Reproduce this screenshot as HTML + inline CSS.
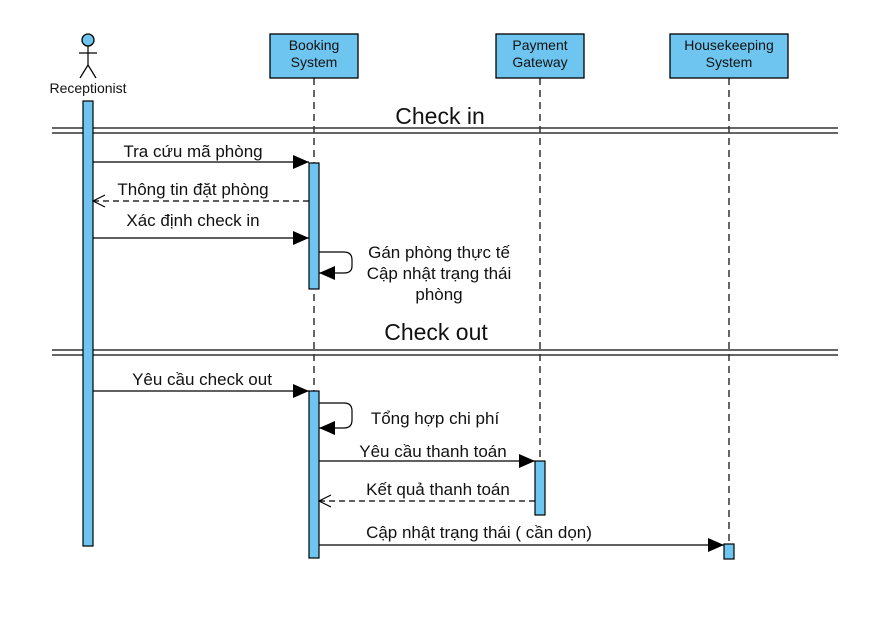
<!DOCTYPE html>
<html><head><meta charset="utf-8"><style>
html,body{margin:0;padding:0;background:#fff;}
svg{display:block;}
text{font-family:"Liberation Sans","DejaVu Sans",sans-serif;fill:#111;}
.m{font-size:17px;}
.b{font-size:14px;}
</style></head><body>
<svg width="869" height="634" viewBox="0 0 869 634" xmlns="http://www.w3.org/2000/svg">
<defs>
<marker id="f" markerWidth="16" markerHeight="14" refX="16" refY="7" orient="auto" markerUnits="userSpaceOnUse"><path d="M0,0 L16,7 L0,14 Z" fill="#000"/></marker>
<marker id="o" markerWidth="14" markerHeight="14" refX="13" refY="7" orient="auto" markerUnits="userSpaceOnUse"><path d="M1,1 L13,7 L1,13" fill="none" stroke="#000" stroke-width="1.2"/></marker>
</defs>
<circle cx="88" cy="40" r="6" fill="#6ec6f0" stroke="#000" stroke-width="1.3"/>
<line x1="88" y1="46" x2="88" y2="65" stroke="#000" stroke-width="1.2"/>
<line x1="79" y1="53" x2="97" y2="53" stroke="#000" stroke-width="1.2"/>
<line x1="88" y1="65" x2="80" y2="78" stroke="#000" stroke-width="1.2"/>
<line x1="88" y1="65" x2="96" y2="78" stroke="#000" stroke-width="1.2"/>
<text x="88" y="93" class="b" text-anchor="middle">Receptionist</text>
<rect x="270" y="34" width="88" height="44" fill="#6ec6f0" stroke="#000" stroke-width="1.3"/>
<text x="314" y="50" class="b" text-anchor="middle">Booking</text><text x="314" y="67" class="b" text-anchor="middle">System</text>
<rect x="496" y="34" width="88" height="44" fill="#6ec6f0" stroke="#000" stroke-width="1.3"/>
<text x="540" y="50" class="b" text-anchor="middle">Payment</text><text x="540" y="67" class="b" text-anchor="middle">Gateway</text>
<rect x="670" y="34" width="118" height="44" fill="#6ec6f0" stroke="#000" stroke-width="1.3"/>
<text x="729" y="50" class="b" text-anchor="middle">Housekeeping</text><text x="729" y="67" class="b" text-anchor="middle">System</text>
<g stroke="#000" stroke-width="1.2" stroke-dasharray="7,5">
<line x1="314" y1="78" x2="314" y2="558"/>
<line x1="540" y1="78" x2="540" y2="515"/>
<line x1="729" y1="78" x2="729" y2="544"/>
</g>
<g stroke="#333" stroke-width="1.5">
<line x1="52" y1="128" x2="838" y2="128"/><line x1="52" y1="133" x2="838" y2="133"/>
<line x1="52" y1="350" x2="838" y2="350"/><line x1="52" y1="355" x2="838" y2="355"/>
</g>
<text x="440" y="124" font-size="23" text-anchor="middle">Check in</text>
<text x="436" y="340" font-size="23" text-anchor="middle">Check out</text>
<g fill="#6ec6f0" stroke="#000" stroke-width="1.2">
<rect x="83" y="101" width="10" height="445"/>
<rect x="309" y="163" width="10" height="126"/>
<rect x="309" y="391" width="10" height="167"/>
<rect x="535" y="461" width="10" height="54"/>
<rect x="724" y="544" width="10" height="15"/>
</g>
<g stroke="#000" stroke-width="1.2" fill="none">
<line x1="93" y1="162" x2="309" y2="162" marker-end="url(#f)"/>
<line x1="309" y1="201" x2="93" y2="201" stroke-dasharray="6,4" marker-end="url(#o)"/>
<line x1="93" y1="238" x2="309" y2="238" marker-end="url(#f)"/>
<path d="M319,252 L344,252 Q352,252 352,260 L352,266 Q352,273 344,273 L319,273" marker-end="url(#f)"/>
<line x1="93" y1="391" x2="309" y2="391" marker-end="url(#f)"/>
<path d="M319,403 L344,403 Q352,403 352,411 L352,420 Q352,428 344,428 L319,428" marker-end="url(#f)"/>
<line x1="319" y1="461" x2="535" y2="461" marker-end="url(#f)"/>
<line x1="535" y1="501" x2="319" y2="501" stroke-dasharray="6,4" marker-end="url(#o)"/>
<line x1="319" y1="545" x2="724" y2="545" marker-end="url(#f)"/>
</g>
<text x="193" y="157" class="m" text-anchor="middle">Tra cứu mã phòng</text>
<text x="193" y="195" class="m" text-anchor="middle">Thông tin đặt phòng</text>
<text x="193" y="226" class="m" text-anchor="middle">Xác định check in</text>
<text x="439" y="258" class="m" text-anchor="middle">Gán phòng thực tế</text>
<text x="439" y="279" class="m" text-anchor="middle">Cập nhật trạng thái</text>
<text x="439" y="300" class="m" text-anchor="middle">phòng</text>
<text x="202" y="385" class="m" text-anchor="middle">Yêu cầu check out</text>
<text x="435" y="424" class="m" text-anchor="middle">Tổng hợp chi phí</text>
<text x="433" y="457" class="m" text-anchor="middle">Yêu cầu thanh toán</text>
<text x="438" y="495" class="m" text-anchor="middle">Kết quả thanh toán</text>
<text x="479" y="538" class="m" text-anchor="middle">Cập nhật trạng thái ( cần dọn)</text>
</svg>
</body></html>
